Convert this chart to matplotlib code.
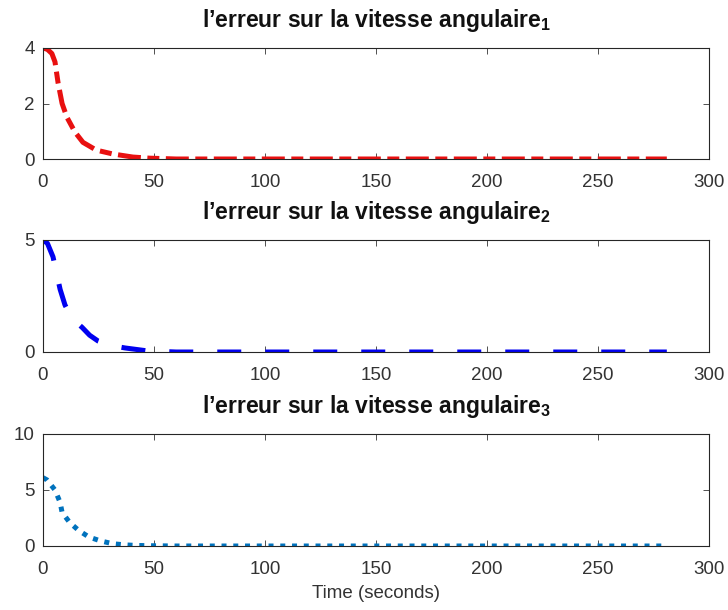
import numpy as np
import matplotlib.pyplot as plt

plt.rcParams['font.family'] = ['Liberation Sans', 'DejaVu Sans']
plt.rcParams['mathtext.fontset'] = 'custom'
plt.rcParams['mathtext.rm'] = 'Liberation Sans'
plt.rcParams['mathtext.bf'] = 'Liberation Sans:bold'

# erreur 1
t1 = [0, 2, 4, 5.4, 6.8, 8.6, 10.8, 14.4, 18, 24, 31.5, 40.5, 48, 60, 80, 120, 160, 200, 240, 281]
e1 = [4.0, 3.95, 3.8, 3.5, 2.74, 2.0, 1.5, 0.97, 0.6, 0.32, 0.18, 0.07, 0.03, 0.0, 0.0, 0.0, 0.0, 0.0, 0.0, 0.0]

# erreur 2
t2 = [0, 2, 4.5, 7.7, 9.9, 13, 17.6, 21, 24.8, 30, 37, 47, 60, 80, 120, 160, 200, 240, 281]
e2 = [5.0, 4.85, 4.25, 2.8, 2.1, 1.5, 1.1, 0.75, 0.49, 0.3, 0.18, 0.05, 0.0, 0.0, 0.0, 0.0, 0.0, 0.0, 0.0]

# erreur 3
t3 = [0, 1.8, 5.4, 7.7, 8.6, 12, 16, 20.7, 26, 31.5, 37, 42, 50, 60, 80, 120, 160, 200, 240, 280]
e3 = [6.1, 5.9, 5.0, 3.9, 3.0, 2.1, 1.4, 0.8, 0.45, 0.2, 0.1, 0.05, 0.02, 0.0, 0.0, 0.0, 0.0, 0.0, 0.0, 0.0]

titres = [r"l’erreur sur la vitesse angulaire$_\mathbf{1}$",
          r"l’erreur sur la vitesse angulaire$_\mathbf{2}$",
          r"l’erreur sur la vitesse angulaire$_\mathbf{3}$"]
yticks = [[0, 2, 4], [0, 5], [0, 5, 10]]
ylims = [(0, 4), (0, 5), (0, 10)]
xticks = [0, 50, 100, 150, 200, 250, 300]

fig = plt.figure(figsize=(7.28, 6.10), dpi=100)
W, H = 728, 610
boxes = [(43, 48, 709, 159), (43, 240, 709, 352), (43, 434, 709, 546)]
axes = []
for (x0, y0, x1, y1) in boxes:
    axes.append(fig.add_axes([x0 / W, 1 - y1 / H, (x1 - x0) / W, (y1 - y0) / H]))

lw = 3.6
axes[0].plot(t1, e1, color='#e81010', lw=lw, dashes=(4.6, 1.3, 2.4, 1.3))
axes[1].plot(t2, e2, color='#0000f0', lw=lw, dashes=(4.8, 4.8))
axes[2].plot(t3, e3, color='#0072bd', lw=lw, dashes=(1.0, 1.35))

for i, ax in enumerate(axes):
    ax.set_xlim(0, 300)
    ax.set_ylim(*ylims[i])
    ax.set_xticks(xticks)
    ax.set_yticks(yticks[i])
    ax.tick_params(direction='in', top=True, right=True, labelsize=13.5,
                   colors='#333333', length=4, width=0.6)
    ax.tick_params(axis='x', pad=11)
    ax.tick_params(axis='y', pad=6)
    for s in ax.spines.values():
        s.set_color('#262626')
        s.set_linewidth(0.8)
    ax.set_title(titres[i], fontsize=16.5, fontweight='bold', color='#111111', pad=15)

axes[2].set_xlabel('Time (seconds)', fontsize=13.5, color='#333333', labelpad=5)

fig.savefig('out.png', dpi=100)
